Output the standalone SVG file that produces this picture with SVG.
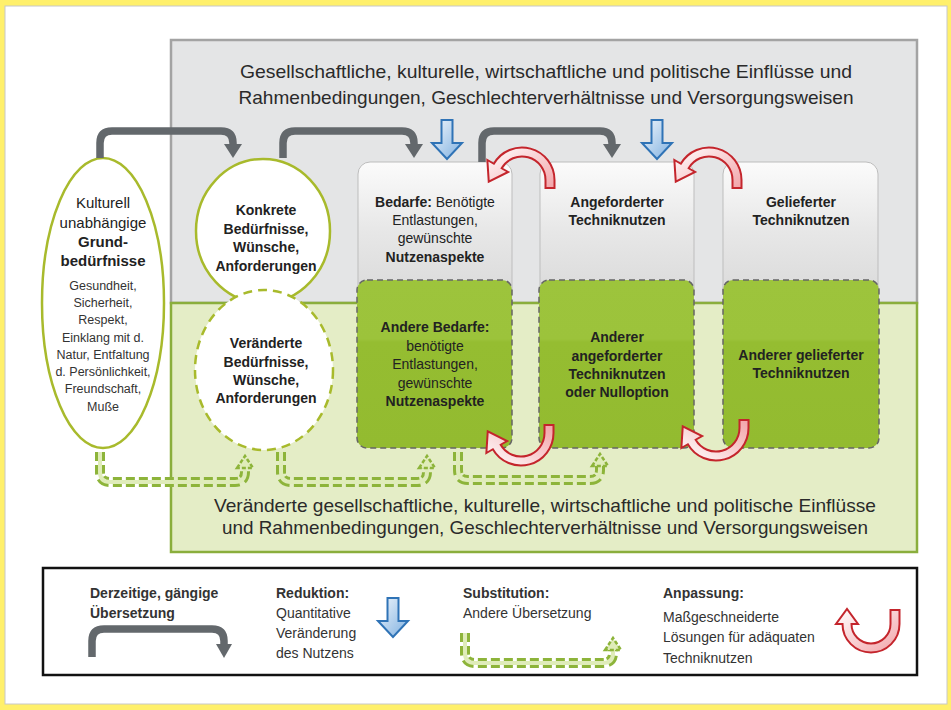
<svg xmlns="http://www.w3.org/2000/svg" width="951" height="710" viewBox="0 0 951 710">
<style>
text{font-family:"Liberation Sans",Arial,sans-serif;fill:#222}
.big{font-size:18.5px;fill:#2a2a2a;text-anchor:middle}
.lbl{font-size:14px;text-anchor:middle}
.b{font-weight:bold}
.ttl{font-size:15px;text-anchor:middle}
.sm{font-size:12.5px;text-anchor:middle;fill:#333}
.leg{font-size:14px;fill:#333}
.gbox{fill:url(#gGray);stroke:#bdbdbd;stroke-width:1}
.grbox{fill:url(#gGreen);stroke:#666;stroke-width:1.5;stroke-dasharray:6 4}
.ell{fill:#fff;stroke:#a8ba2c;stroke-width:2.5}
.garrow{fill:none;stroke:#63686c;stroke-width:7.5}
.ghead{fill:#63686c}
.sub1{fill:none;stroke:#8db43a;stroke-width:10;stroke-dasharray:9 4}
.sub2{fill:none;stroke:#dfecb9;stroke-width:4}
.subh{fill:#dfecb9;stroke:#8db43a;stroke-width:2.5;stroke-dasharray:4 2}
.red{fill:url(#gRed);stroke:#c4252c;stroke-width:2}
.blue{fill:url(#gBlue);stroke:#2f73b6;stroke-width:2}
</style>
<defs>
<linearGradient id="gGray" x1="0" y1="0" x2="0" y2="1">
<stop offset="0" stop-color="#fbfbfb"/><stop offset="0.5" stop-color="#e7e7e7"/><stop offset="1" stop-color="#d9d9d9"/>
</linearGradient>
<linearGradient id="gGreen" x1="0" y1="0" x2="0" y2="1">
<stop offset="0" stop-color="#9dc43c"/><stop offset="0.35" stop-color="#9cc33b"/><stop offset="0.37" stop-color="#95bd31"/><stop offset="1" stop-color="#93bb30"/>
</linearGradient>
<linearGradient id="gRed" x1="0" y1="0" x2="1" y2="1">
<stop offset="0" stop-color="#ffffff"/><stop offset="1" stop-color="#f2a3a8"/>
</linearGradient>
<linearGradient id="gBlue" x1="0" y1="0" x2="1" y2="1">
<stop offset="0" stop-color="#f0f6fc"/><stop offset="1" stop-color="#7fb0e0"/>
</linearGradient>
<path id="uArc" d="M 32.5 8 V 0 A 32.5 32.5 0 0 0 -28.15 -16.25 L -34.64 -20 L -33.25 1.59 L -13.86 -8 L -20.35 -11.75 A 23.5 23.5 0 0 1 23.5 0 V 8 Z"/>
<path id="bArr" d="M -5.5 -39 H 5.5 V -16 H 15 L 0 0 L -15 -16 H -5.5 Z"/>
</defs>

<rect x="0" y="0" width="951" height="710" fill="#fff06b"/>
<rect x="5" y="6" width="942" height="698" fill="#fff" stroke="#c8c8c8" stroke-width="1"/>

<g id="panel-current">
<rect x="171" y="40" width="746" height="263" fill="#e4e5e6" stroke="#a3a3a3" stroke-width="2.5"/>
<text class="big" x="546" y="78" textLength="612" lengthAdjust="spacingAndGlyphs">Gesellschaftliche, kulturelle, wirtschaftliche und politische Einflüsse und</text>
<text class="big" x="546" y="104" textLength="615" lengthAdjust="spacingAndGlyphs">Rahmenbedingungen, Geschlechterverhältnisse und Versorgungsweisen</text>
</g>
<g id="panel-changed">
<rect x="171" y="303" width="746" height="249" fill="#e4edc6" stroke="#8aae3c" stroke-width="2.5"/>
<text class="big" x="545" y="512" textLength="662" lengthAdjust="spacingAndGlyphs">Veränderte gesellschaftliche, kulturelle, wirtschaftliche und politische Einflüsse</text>
<text class="big" x="545" y="534" textLength="646" lengthAdjust="spacingAndGlyphs">und Rahmenbedingungen, Geschlechterverhältnisse und Versorgungsweisen</text>
</g>

<g id="node-bedarfe">
<rect class="gbox" x="358" y="162" width="154" height="140" rx="12"/>
<text class="lbl" x="435" y="207"><tspan class="b">Bedarfe:</tspan>  Benötigte</text>
<text class="lbl" x="435" y="225">Entlastungen,</text>
<text class="lbl" x="435" y="243">gewünschte</text>
<text class="lbl b" x="435" y="262">Nutzenaspekte</text>
</g>
<g id="node-angefordert">
<rect class="gbox" x="540" y="162" width="154" height="140" rx="12"/>
<text class="lbl b" x="617" y="207">Angeforderter</text>
<text class="lbl b" x="617" y="225">Techniknutzen</text>
</g>
<g id="node-geliefert">
<rect class="gbox" x="723" y="162" width="155" height="140" rx="12"/>
<text class="lbl b" x="801" y="207">Gelieferter</text>
<text class="lbl b" x="801" y="225">Techniknutzen</text>
</g>

<g id="node-andere-bedarfe">
<rect class="grbox" x="357" y="280" width="155" height="168" rx="10"/>
<text class="lbl b" x="435" y="332">Andere Bedarfe:</text>
<text class="lbl" x="435" y="351">benötigte</text>
<text class="lbl" x="435" y="369">Entlastungen,</text>
<text class="lbl" x="435" y="388">gewünschte</text>
<text class="lbl b" x="435" y="406">Nutzenaspekte</text>
</g>
<g id="node-anderer-angefordert">
<rect class="grbox" x="539" y="280" width="155" height="168" rx="10"/>
<text class="lbl b" x="617" y="342">Anderer</text>
<text class="lbl b" x="617" y="361">angeforderter</text>
<text class="lbl b" x="617" y="379">Techniknutzen</text>
<text class="lbl b" x="617" y="397">oder Nulloption</text>
</g>
<g id="node-anderer-geliefert">
<rect class="grbox" x="723" y="280" width="156" height="168" rx="10"/>
<text class="lbl b" x="801" y="360">Anderer gelieferter</text>
<text class="lbl b" x="801" y="378">Techniknutzen</text>
</g>

<g id="node-grundbeduerfnisse">
<ellipse class="ell" cx="103" cy="303" rx="61" ry="145"/>
<text class="ttl" x="103" y="208">Kulturell</text>
<text class="ttl" x="103" y="228">unabhängige</text>
<text class="ttl b" x="103" y="247">Grund-</text>
<text class="ttl b" x="103" y="266">bedürfnisse</text>
<text class="sm" x="103" y="290">Gesundheit,</text>
<text class="sm" x="103" y="307">Sicherheit,</text>
<text class="sm" x="103" y="324">Respekt,</text>
<text class="sm" x="103" y="342">Einklang mit d.</text>
<text class="sm" x="103" y="359">Natur, Entfaltung</text>
<text class="sm" x="103" y="376">d. Persönlichkeit,</text>
<text class="sm" x="103" y="393">Freundschaft,</text>
<text class="sm" x="103" y="411">Muße</text>
</g>
<g id="node-konkrete">
<ellipse class="ell" cx="263" cy="231" rx="67" ry="72"/>
<text class="lbl b" x="266" y="215">Konkrete</text>
<text class="lbl b" x="266" y="234">Bedürfnisse,</text>
<text class="lbl b" x="266" y="252">Wünsche,</text>
<text class="lbl b" x="266" y="271">Anforderungen</text>
</g>
<g id="node-veraenderte">
<ellipse class="ell" cx="264" cy="370" rx="69" ry="80" stroke-dasharray="9 6"/>
<text class="lbl b" x="266" y="348">Veränderte</text>
<text class="lbl b" x="266" y="367">Bedürfnisse,</text>
<text class="lbl b" x="266" y="385">Wünsche,</text>
<text class="lbl b" x="266" y="403">Anforderungen</text>
</g>

<g id="connectors">
<path class="garrow" d="M 100 158 V 143 Q 100 131 112 131 H 221 Q 233 131 233 143 V 146"/>
<polygon class="ghead" points="224,144 242,144 233,158"/>
<path class="garrow" d="M 283 158 V 143 Q 283 131 295 131 H 402 Q 414 131 414 143 V 146"/>
<polygon class="ghead" points="405,144 423,144 414,158"/>
<path class="garrow" d="M 482 162 V 143 Q 482 131 494 131 H 600 Q 612 131 612 143 V 146"/>
<polygon class="ghead" points="603,144 621,144 612,158"/>

<use href="#bArr" class="blue" transform="translate(447,159)"/>
<use href="#bArr" class="blue" transform="translate(657,159)"/>

<use href="#uArc" class="red" transform="translate(522,180)"/>
<use href="#uArc" class="red" transform="translate(709,180)"/>
<use href="#uArc" class="red" transform="translate(521,433) scale(1,-1)"/>
<use href="#uArc" class="red" transform="translate(716,428) scale(1,-1)"/>

<path class="sub1" d="M 100 452 V 472 Q 100 482 110 482 H 235 Q 245 482 245 472 V 467"/>
<path class="sub2" d="M 100 452 V 472 Q 100 482 110 482 H 235 Q 245 482 245 472 V 467"/>
<polygon class="subh" points="237,468 245,456 253,468"/>
<path class="sub1" d="M 281 452 V 472 Q 281 482 291 482 H 417 Q 427 482 427 472 V 467"/>
<path class="sub2" d="M 281 452 V 472 Q 281 482 291 482 H 417 Q 427 482 427 472 V 467"/>
<polygon class="subh" points="419,468 427,456 435,468"/>
<path class="sub1" d="M 458 452 V 470 Q 458 480 468 480 H 590 Q 600 480 600 470 V 465"/>
<path class="sub2" d="M 458 452 V 470 Q 458 480 468 480 H 590 Q 600 480 600 470 V 465"/>
<polygon class="subh" points="592,466 600,454 608,466"/>
</g>

<g id="legend">
<rect x="43" y="568" width="874" height="107" fill="#fff" stroke="#111" stroke-width="2.5"/>
<text class="leg b" x="90" y="598">Derzeitige, gängige</text>
<text class="leg b" x="90" y="618">Übersetzung</text>
<path class="garrow" d="M 92 657 V 641 Q 92 629 104 629 H 212 Q 224 629 224 641 V 646"/>
<polygon class="ghead" points="216,644 232,644 224,658"/>
<text class="leg b" x="276" y="598">Reduktion:</text>
<text class="leg" x="276" y="618">Quantitative</text>
<text class="leg" x="276" y="638">Veränderung</text>
<text class="leg" x="276" y="658">des Nutzens</text>
<use href="#bArr" class="blue" transform="translate(393,637)"/>
<text class="leg b" x="463" y="598">Substitution:</text>
<text class="leg" x="463" y="618">Andere Übersetzung</text>
<path class="sub1" d="M 465 633 V 653 Q 465 663 475 663 H 603 Q 613 663 613 653 V 650"/>
<path class="sub2" d="M 465 633 V 653 Q 465 663 475 663 H 603 Q 613 663 613 653 V 650"/>
<polygon class="subh" points="605,650 613,638 621,650"/>
<text class="leg b" x="663" y="598">Anpassung:</text>
<text class="leg" x="663" y="622">Maßgeschneiderte</text>
<text class="leg" x="663" y="642">Lösungen für adäquaten</text>
<text class="leg" x="663" y="663">Techniknutzen</text>
<path class="red" d="M 899.5 610 V 624 A 28.5 28.5 0 0 1 842.5 624 L 836 624 L 847 609 L 858 624 L 851.5 624 A 19.5 19.5 0 0 0 890.5 624 V 610 Z"/>
</g>
</svg>
